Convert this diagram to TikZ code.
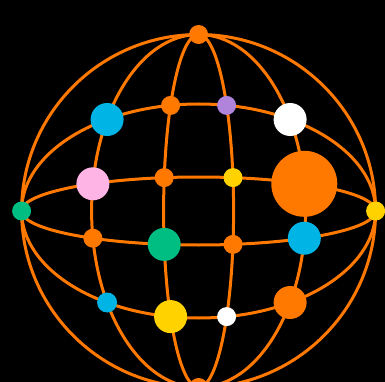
\documentclass[tikz,border=0pt]{standalone}
\definecolor{globeorange}{RGB}{255,121,0}
\definecolor{dotcyan}{RGB}{0,180,230}
\definecolor{dotgreen}{RGB}{0,190,130}
\definecolor{dotyellow}{RGB}{255,210,0}
\definecolor{dotpurple}{RGB}{176,132,218}
\definecolor{dotpink}{RGB}{255,180,230}
\tikzset{
  wire/.style={draw=globeorange, line width=3pt},
  dot/.style={circle, inner sep=0pt, draw=none, fill=#1},
  small/.style={minimum size=19pt},
  mid/.style={minimum size=33pt},
  big/.style={minimum size=66pt},
}
\begin{document}
\begin{tikzpicture}[x=1pt,y=-1pt]
\fill[black] (0,0) rectangle (385,382);
\useasboundingbox (0,0) rectangle (385,382);
\begin{scope}[shift={(198.6,211)}]
  % wireframe
  \draw[wire] (0,0) ellipse [x radius=177, y radius=176.5];
  \draw[wire] (0,0) ellipse [x radius=107, y radius=176.5];
  \draw[wire] (0,0) ellipse [x radius=35, y radius=176.5];
  \draw[wire] (0,0) ellipse [x radius=177, y radius=107];
  \draw[wire] (0,0) ellipse [x radius=177, y radius=34];
  % dots
  \node[dot=globeorange, small] (ptop) at (0,-176.5) {};
  \node[dot=dotcyan, mid] (c1) at (-91.5,-91.5) {};
  \node[dot=globeorange, small] (o1) at (-28,-105.6) {};
  \node[dot=dotpurple, small] (p1) at (28,-105.6) {};
  \node[dot=white, mid] (w1) at (91.5,-91.5) {};
  \node[dot=dotpink, mid] (k1) at (-105.7,-27.2) {};
  \node[dot=globeorange, small] (o2) at (-34.4,-33.4) {};
  \node[dot=dotyellow, small] (y1) at (34.4,-33.4) {};
  \node[dot=globeorange, big] (ob) at (105.7,-27.2) {};
  \node[dot=dotgreen, small] (gl) at (-177,0) {};
  \node[dot=dotyellow, small] (yr) at (177,0) {};
  \node[dot=globeorange, small] (o3) at (-105.7,27.2) {};
  \node[dot=dotgreen, mid] (g2) at (-34.4,33.4) {};
  \node[dot=globeorange, small] (o4) at (34.4,33.4) {};
  \node[dot=dotcyan, mid] (c2) at (105.7,27.2) {};
  \node[dot=dotcyan, minimum size=20pt] (c3) at (-91.5,91.5) {};
  \node[dot=dotyellow, mid] (y2) at (-28,105.6) {};
  \node[dot=white, small] (w2) at (28,105.6) {};
  \node[dot=globeorange, mid] (o5) at (91.5,91.5) {};
  \node[dot=globeorange, small] (pbot) at (0,176.5) {};
\end{scope}
\end{tikzpicture}
\end{document}
